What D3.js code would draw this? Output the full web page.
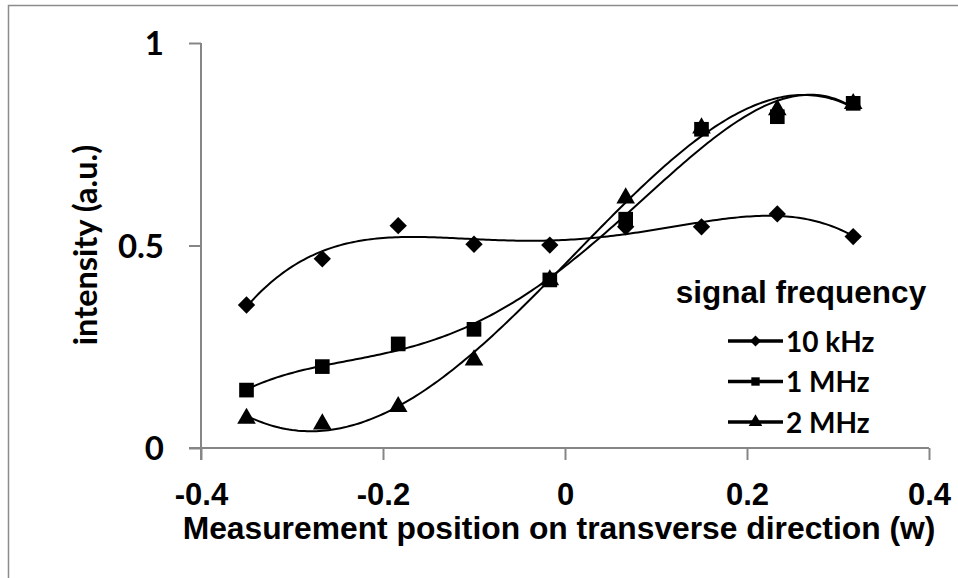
<!DOCTYPE html>
<html><head><meta charset="utf-8">
<script src="https://cdn.jsdelivr.net/npm/d3@7"></script>
<style>html,body{margin:0;padding:0;background:#fff;}</style>
</head><body>
<svg id="chart" width="958" height="578"></svg>
<script>
// ---- data ----
const positions = [-0.35, -0.2667, -0.1833, -0.1, -0.0167, 0.0667, 0.15, 0.2333, 0.3167];
const series10kHz = [0.353, 0.467, 0.549, 0.503, 0.501, 0.546, 0.546, 0.578, 0.522];
const series1MHz  = [0.143, 0.201, 0.257, 0.293, 0.415, 0.565, 0.787, 0.818, 0.851];
const series2MHz  = [0.073, 0.059, 0.102, 0.217, 0.415, 0.617, 0.790, 0.835, 0.850];
const seriesNames = ["10 kHz", "1 MHz", "2 MHz"];
const seriesSymbols = ["diamond", "square", "triangle"];
const xTicks = [-0.4, -0.2, 0, 0.2, 0.4];
const yTicks = [0, 0.5, 1];
const xTitle = "Measurement position on transverse direction (w)";
const yTitle = "intensity (a.u.)";
const legendTitle = "signal frequency";
const trendOrder = 4;

const seriesValues = [series10kHz, series1MHz, series2MHz];

const svg = d3.select("#chart");
svg.append("rect").attr("width", 958).attr("height", 578).attr("fill", "#fff");
svg.append("rect").attr("x", 8.5).attr("y", 5.5).attr("width", 1000).attr("height", 700)
  .attr("fill", "none").attr("stroke", "#8c8c8c").attr("stroke-width", 1.5);

const x = d3.scaleLinear().domain([-0.4, 0.4]).range([201, 929]);
const y = d3.scaleLinear().domain([0, 1]).range([448, 43]);
const axisColor = "#868686";
const fmt = d => d === 0 ? "0" : (d < 0 ? "-" : "") + Math.abs(d).toString();

// y axis
const yAxis = svg.append("g").attr("transform", `translate(${x(-0.4)},0)`)
  .call(d3.axisLeft(y).tickValues(yTicks).tickSize(12).tickFormat(fmt));
yAxis.select(".domain").remove();
yAxis.append("line").attr("x1", 0).attr("x2", 0).attr("y1", y(1)).attr("y2", y(0) + 12)
  .attr("stroke", axisColor).attr("stroke-width", 2);
yAxis.selectAll(".tick line").attr("stroke", axisColor).attr("stroke-width", 2);
yAxis.selectAll(".tick text").attr("x", -37).attr("dy", "0.36em")
  .style("font-family", "Lato, 'Open Sans', sans-serif").style("font-weight", "bold")
  .style("font-size", "33px").attr("fill", "#000");

// x axis
const xAxis = svg.append("g").attr("transform", `translate(0,${y(0)})`)
  .call(d3.axisBottom(x).tickValues(xTicks).tickSize(12).tickFormat(fmt));
xAxis.select(".domain").remove();
xAxis.append("line").attr("x1", x(-0.4) - 12).attr("x2", x(0.4)).attr("y1", 0).attr("y2", 0)
  .attr("stroke", axisColor).attr("stroke-width", 2);
xAxis.selectAll(".tick line").attr("stroke", axisColor).attr("stroke-width", 2);
xAxis.selectAll(".tick text").attr("y", 57).attr("dy", 0)
  .style("font-family", "'Liberation Sans', Arial, sans-serif").style("font-weight", "bold")
  .style("font-size", "31px").attr("fill", "#000");

// axis titles
svg.append("text").attr("x", 559).attr("y", 539).attr("text-anchor", "middle")
  .style("font-family", "'Liberation Sans', Arial, sans-serif").style("font-weight", "bold")
  .style("font-size", "31.8px").text(xTitle);
svg.append("text").attr("transform", "translate(97,245) rotate(-90)").attr("text-anchor", "middle")
  .style("font-family", "Lato, 'Open Sans', sans-serif").style("font-weight", "bold")
  .style("font-size", "32.5px").text(yTitle);

// polynomial least squares trendline
function polyfit(xs, ys, order) {
  const n = order + 1;
  const A = Array.from({length: n}, () => new Array(n + 1).fill(0));
  for (let i = 0; i < xs.length; i++) {
    for (let r = 0; r < n; r++) {
      for (let c = 0; c < n; c++) A[r][c] += Math.pow(xs[i], r + c);
      A[r][n] += ys[i] * Math.pow(xs[i], r);
    }
  }
  for (let i = 0; i < n; i++) {
    let p = i;
    for (let k = i + 1; k < n; k++) if (Math.abs(A[k][i]) > Math.abs(A[p][i])) p = k;
    [A[i], A[p]] = [A[p], A[i]];
    for (let k = i + 1; k < n; k++) {
      const f = A[k][i] / A[i][i];
      for (let c = i; c <= n; c++) A[k][c] -= f * A[i][c];
    }
  }
  const coef = new Array(n).fill(0);
  for (let i = n - 1; i >= 0; i--) {
    let s = A[i][n];
    for (let c = i + 1; c < n; c++) s -= A[i][c] * coef[c];
    coef[i] = s / A[i][i];
  }
  return xv => coef.reduce((acc, c, k) => acc + c * Math.pow(xv, k), 0);
}

const line = d3.line().x(d => x(d[0])).y(d => y(d[1])).curve(d3.curveLinear);
const xmin = d3.min(positions), xmax = d3.max(positions);
const samples = d3.range(0, 201).map(i => xmin + (xmax - xmin) * i / 200);

seriesValues.forEach(vals => {
  const f = polyfit(positions, vals, trendOrder);
  svg.append("path").attr("d", line(samples.map(s => [s, f(s)])))
    .attr("fill", "none").attr("stroke", "#000").attr("stroke-width", 2);
});

// markers: diamond = square rotated 45deg
const symbolMap = {diamond: d3.symbolSquare, square: d3.symbolSquare, triangle: d3.symbolTriangle};
const symbolRot = {diamond: 45, square: 0, triangle: 0};
const symbolSize = {diamond: 150, square: 215, triangle: 150};

seriesValues.forEach((vals, si) => {
  const sym = seriesSymbols[si];
  svg.append("g").selectAll("path").data(vals).join("path")
    .attr("transform", (d, i) => `translate(${x(positions[i])},${y(d)}) rotate(${symbolRot[sym]})`)
    .attr("d", d3.symbol().type(symbolMap[sym]).size(symbolSize[sym]))
    .attr("fill", "#000");
});

// legend
svg.append("text").attr("x", 801).attr("y", 303).attr("text-anchor", "middle")
  .style("font-family", "'Liberation Sans', Arial, sans-serif").style("font-weight", "bold")
  .style("font-size", "31.5px").text(legendTitle);
const legendSize = {diamond: 60, square: 70, triangle: 80};
seriesNames.forEach((name, i) => {
  const cy = 341 + i * 40.5;
  const sym = seriesSymbols[i];
  const g = svg.append("g");
  g.append("line").attr("x1", 728).attr("x2", 783).attr("y1", cy).attr("y2", cy)
    .attr("stroke", "#000").attr("stroke-width", 3.5);
  g.append("path").attr("transform", `translate(755.5,${cy}) rotate(${symbolRot[sym]})`)
    .attr("d", d3.symbol().type(symbolMap[sym]).size(legendSize[sym]))
    .attr("fill", "#000");
  g.append("text").attr("x", 786).attr("y", cy + 10.5)
    .style("font-family", "Lato, 'Open Sans', sans-serif").style("font-weight", "bold")
    .style("font-size", "28px").text(name);
});
</script>
</body></html>
